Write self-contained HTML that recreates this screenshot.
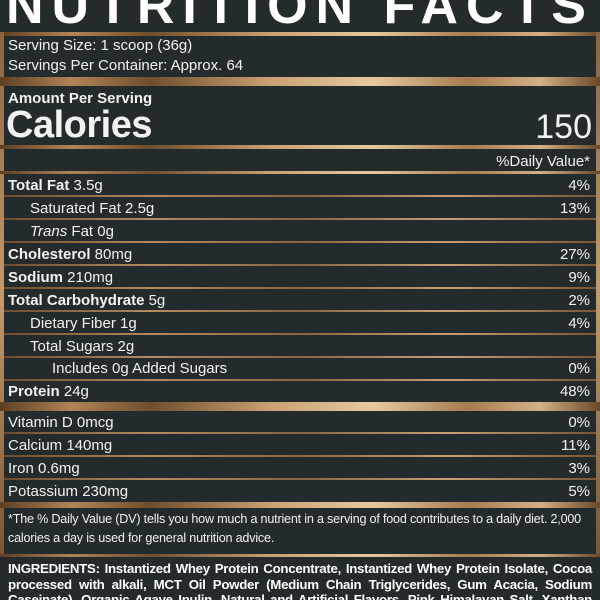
<!DOCTYPE html>
<html><head><meta charset="utf-8"><style>
*{margin:0;padding:0;box-sizing:border-box}
html,body{width:600px;height:600px;overflow:hidden;background:#242b2c}
body{font-family:"Liberation Sans",sans-serif;color:#f2f2f2;position:relative}
.g{position:absolute;left:0;width:600px;background:linear-gradient(90deg,#5e3f22 0%,#b08458 12%,#6f4d2c 25%,#c9a073 45%,#e6c9a0 62%,#a57b50 78%,#d4b086 90%,#6a4828 100%)}
.side{position:absolute;width:4px;background:linear-gradient(180deg,#8a6440,#c49a6c,#7a5634)}
.t{position:absolute;font-size:15px;white-space:nowrap;line-height:1}
.r{position:absolute;right:10px;font-size:15px;line-height:1;white-space:nowrap}
b{font-weight:bold}
.thin{position:absolute;left:4px;width:592px;height:2px;background:linear-gradient(90deg,#6f4d2c,#b58b5e,#8a6540,#c9a073,#7a5634)}
</style></head><body>
<div style="position:absolute;left:0;top:-20px;width:600px;text-align:center;font-size:52px;font-weight:bold;letter-spacing:8px;color:#fff;line-height:1;white-space:nowrap">NUTRITION FACTS</div>
<div class="g" style="top:32px;height:4px"></div>
<div class="side" style="left:0;top:32px;height:525px"></div>
<div class="side" style="left:596px;top:32px;height:525px"></div>
<div class="t" style="left:8px;top:38px">Serving Size: 1 scoop (36g)</div>
<div class="t" style="left:8px;top:58px">Servings Per Container: Approx. 64</div>
<div class="g" style="top:77px;height:9px"></div>
<div class="t" style="left:8px;top:91px;font-weight:bold;font-size:15px">Amount Per Serving</div>
<div class="t" style="left:6px;top:106px;font-weight:bold;font-size:38px;letter-spacing:-0.5px">Calories</div>
<div class="r" style="top:110px;font-size:34px;right:8px">150</div>
<div class="g" style="top:145px;height:4px"></div>
<div class="r" style="top:154px">%Daily Value*</div>
<div class="g" style="top:171px;height:3px"></div>
<div class="t" style="left:8px;top:178px"><b>Total Fat</b> 3.5g</div><div class="r" style="top:178px">4%</div>
<div class="thin" style="top:195px"></div>
<div class="t" style="left:30px;top:201px">Saturated Fat 2.5g</div><div class="r" style="top:201px">13%</div>
<div class="thin" style="top:218px"></div>
<div class="t" style="left:30px;top:224px"><i>Trans</i> Fat 0g</div>
<div class="thin" style="top:241px"></div>
<div class="t" style="left:8px;top:247px"><b>Cholesterol</b> 80mg</div><div class="r" style="top:247px">27%</div>
<div class="thin" style="top:264px"></div>
<div class="t" style="left:8px;top:270px"><b>Sodium</b> 210mg</div><div class="r" style="top:270px">9%</div>
<div class="thin" style="top:287px"></div>
<div class="t" style="left:8px;top:293px"><b>Total Carbohydrate</b> 5g</div><div class="r" style="top:293px">2%</div>
<div class="thin" style="top:310px"></div>
<div class="t" style="left:30px;top:316px">Dietary Fiber 1g</div><div class="r" style="top:316px">4%</div>
<div class="thin" style="top:333px"></div>
<div class="t" style="left:30px;top:339px">Total Sugars 2g</div>
<div class="thin" style="top:356px"></div>
<div class="t" style="left:52px;top:361px">Includes 0g Added Sugars</div><div class="r" style="top:361px">0%</div>
<div class="thin" style="top:379px"></div>
<div class="t" style="left:8px;top:384px"><b>Protein</b> 24g</div><div class="r" style="top:384px">48%</div>
<div class="g" style="top:402px;height:9px"></div>
<div class="t" style="left:8px;top:415px">Vitamin D 0mcg</div><div class="r" style="top:415px">0%</div>
<div class="thin" style="top:432px"></div>
<div class="t" style="left:8px;top:438px">Calcium 140mg</div><div class="r" style="top:438px">11%</div>
<div class="thin" style="top:455px"></div>
<div class="t" style="left:8px;top:461px">Iron 0.6mg</div><div class="r" style="top:461px">3%</div>
<div class="thin" style="top:478px"></div>
<div class="t" style="left:8px;top:484px">Potassium 230mg</div><div class="r" style="top:484px">5%</div>
<div class="g" style="top:502px;height:6px"></div>
<div class="t" style="left:8px;top:513px;font-size:12.6px;letter-spacing:-0.2px">*The % Daily Value (DV) tells you how much a nutrient in a serving of food contributes to a daily diet. 2,000</div>
<div class="t" style="left:8px;top:532px;font-size:12.6px;letter-spacing:-0.2px">calories a day is used for general nutrition advice.</div>
<div class="g" style="top:554px;height:3px"></div>
<div style="position:absolute;left:8px;top:561px;width:584px;font-size:13.3px;font-weight:bold;line-height:15.5px;text-align:justify;letter-spacing:-0.3px;color:#fff">INGREDIENTS: Instantized Whey Protein Concentrate, Instantized Whey Protein Isolate, Cocoa processed with alkali, MCT Oil Powder (Medium Chain Triglycerides, Gum Acacia, Sodium Caseinate), Organic Agave Inulin, Natural and Artificial Flavors, Pink Himalayan Salt, Xanthan Gum, Sucralose.</div>
</body></html>
